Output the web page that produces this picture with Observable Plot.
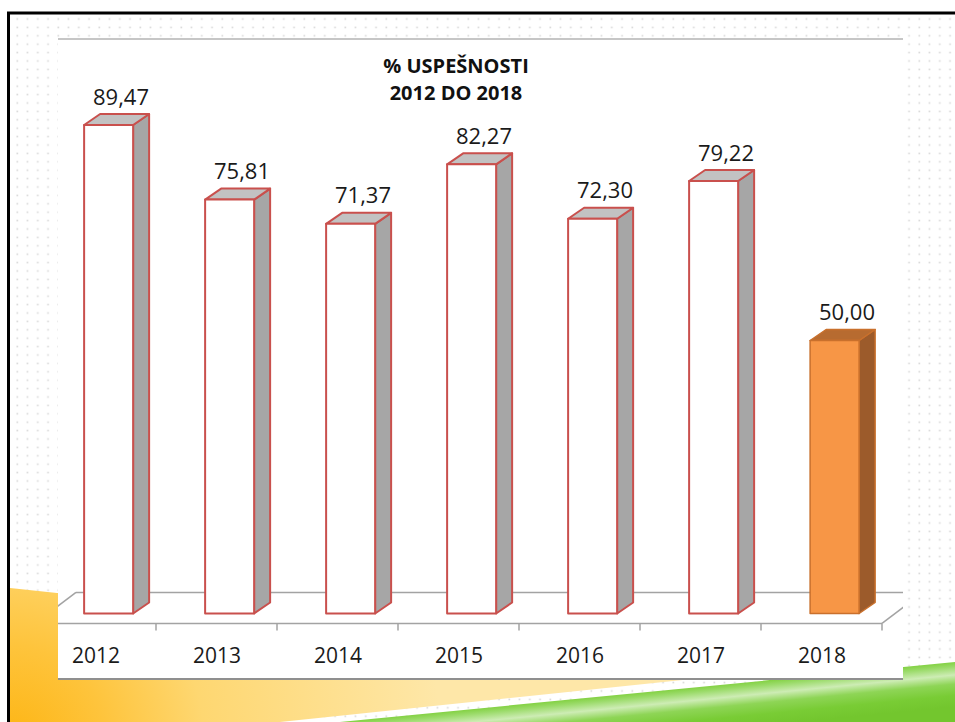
<!DOCTYPE html>
<html>
<head>
<meta charset="utf-8">
<script src="https://cdn.jsdelivr.net/npm/d3@7"></script>
<script src="https://cdn.jsdelivr.net/npm/@observablehq/plot@0.6"></script>
<style>
  html, body { margin: 0; padding: 0; background: #fff; }
  #page { position: relative; width: 955px; height: 722px; overflow: hidden; font-family: "Open Sans", sans-serif; }
  #deco { position: absolute; left: 0; top: 0; }
  #area { position: absolute; left: 58px; top: 38px; width: 845px; height: 638px; background: #fff;
          border-top: 2px solid #c6c6c6; border-bottom: 2px solid #8f8f8f; }
  #chart { position: absolute; left: 58px; top: 40px; width: 845px; height: 638px; overflow: hidden; }
  #title { position: absolute; left: 336px; top: 52px; width: 240px; text-align: center;
           font: bold 20px/27px "Open Sans", sans-serif; color: #111; }
</style>
</head>
<body>
<div id="page">
  <svg id="deco" width="955" height="722">
    <defs>
      <pattern id="dots" x="12.3" y="14.8" width="10.25" height="8.4" patternUnits="userSpaceOnUse">
        <rect x="4.2" y="3.4" width="1.6" height="1.6" fill="#d6d6d6"></rect>
      </pattern>
      <radialGradient id="yel" gradientUnits="userSpaceOnUse" cx="10" cy="740" r="430">
        <stop offset="0" stop-color="#fdb514"></stop>
        <stop offset="0.22" stop-color="#fec43c"></stop>
        <stop offset="0.45" stop-color="#fed771"></stop>
        <stop offset="1" stop-color="#fee7a8"></stop>
      </radialGradient>
      <linearGradient id="grn" gradientUnits="userSpaceOnUse" x1="600" y1="696" x2="604.4" y2="741">
        <stop offset="0" stop-color="#80d03e"></stop>
        <stop offset="0.12" stop-color="#9bdb6a"></stop>
        <stop offset="0.3" stop-color="#cdecb4"></stop>
        <stop offset="0.5" stop-color="#8ed556"></stop>
        <stop offset="0.75" stop-color="#79cc35"></stop>
        <stop offset="1" stop-color="#73c62e"></stop>
      </linearGradient>
    </defs>
    <rect x="10" y="14" width="945" height="708" fill="url(#dots)"></rect>
    <polygon points="10,588 57,593 903,600 903,657 280,722 10,722" fill="url(#yel)"></polygon>
    <polygon points="340,722 955,662 955,722" fill="url(#grn)"></polygon>
    <line x1="7" y1="13" x2="955" y2="13" stroke="#000" stroke-width="3"></line>
    <line x1="8.5" y1="12" x2="8.5" y2="722" stroke="#000" stroke-width="3"></line>
  </svg>
  <div id="area"></div>
  <div id="chart"></div>
  <div id="title">% USPEŠNOSTI<br>2012 DO 2018</div>
</div>
<script>
// ---- data ----
const years = ["2012", "2013", "2014", "2015", "2016", "2017", "2018"];
const values = [89.47, 75.81, 71.37, 82.27, 72.30, 79.22, 50.00];
const highlightYear = "2018";

const data = years.map((year, i) => ({year, value: values[i]}));
const fmt = v => v.toFixed(2).replace(".", ",");

// ---- 3D geometry (pixels) ----
const FLOOR = [41, -31];   // floor depth vector
const D0 = 0.32;           // depth of bar front face (fraction of floor)
const BAR_DEPTH = [16, -11];
const BAR_W = 0.405;       // front face width as fraction of band

function bars3d(index, scales) {
  const x = scales.x, y = scales.y;
  const bw = typeof x.bandwidth === "function" ? x.bandwidth() : (x(years[1]) - x(years[0]));
  const [r0, r1] = typeof x.range === "function" ? x.range() : [x(years[0]), x(years[years.length - 1]) + bw];
  const g = d3.create("svg:g");
  const y0 = y(0);
  const yf = y0 - D0 * FLOOR[1];
  const floorStroke = "#a3a3a3";
  // floor
  const fl = g.append("g").attr("stroke", floorStroke).attr("stroke-width", 1.5).attr("fill", "none");
  fl.append("path").attr("d", `M${r0},${yf}L${r1},${yf}`);
  fl.append("path").attr("d", `M${r0 + FLOOR[0]},${yf + FLOOR[1]}L${r1 + FLOOR[0]},${yf + FLOOR[1]}`);
  fl.append("path").attr("d", `M${r0},${yf}L${r0 + FLOOR[0]},${yf + FLOOR[1]}`);
  fl.append("path").attr("d", `M${r1},${yf}L${r1 + FLOOR[0]},${yf + FLOOR[1]}`);
  for (let k = 0; k <= years.length; k++) {
    const b = r0 + k * bw;
    fl.append("path").attr("d", `M${b},${yf}L${b},${yf + 7}`);
  }
  // bars
  data.forEach(d => {
    const hl = d.year === highlightYear;
    const cx = x(d.year) + bw / 2 + D0 * FLOOR[0];
    const fx0 = cx - BAR_W * bw / 2, fx1 = cx + BAR_W * bw / 2;
    const yt = y(d.value), yb = y0;
    const [ddx, ddy] = BAR_DEPTH;
    const stroke = hl ? "#c9702c" : "#c9504d";
    const bg = g.append("g").attr("stroke", stroke).attr("stroke-width", hl ? 1.5 : 2).attr("stroke-linejoin", "round");
    bg.append("path").attr("fill", hl ? "#9c5b2b" : "#a6a6a6")
      .attr("d", `M${fx1},${yt}L${fx1 + ddx},${yt + ddy}L${fx1 + ddx},${yb + ddy}L${fx1},${yb}Z`);
    bg.append("path").attr("fill", hl ? "#b76b30" : "#c2c2c2")
      .attr("d", `M${fx0},${yt}L${fx0 + ddx},${yt + ddy}L${fx1 + ddx},${yt + ddy}L${fx1},${yt}Z`);
    bg.append("path").attr("fill", hl ? "#f79646" : "#ffffff")
      .attr("d", `M${fx0},${yt}L${fx1},${yt}L${fx1},${yb}L${fx0},${yb}Z`);
  });
  return g.node();
}

const W = 845, H = 638;
const chart = Plot.plot({
  width: W,
  height: H,
  marginTop: 20,
  marginBottom: 54.6,
  marginLeft: 0,
  marginRight: 0,
  style: {fontFamily: "'Open Sans', sans-serif", background: "transparent", overflow: "hidden", color: "#1a1a1a"},
  x: {type: "band", domain: years, range: [-23, 824], padding: 0, label: null},
  y: {domain: [0, 100], range: [573.5, 27.5], axis: null},
  marks: [
    bars3d,
    Plot.axisX({tickSize: 0, tickPadding: 24, fontSize: 21, fill: "#1a1a1a", label: null}),
    Plot.text(data, {
      x: "year", y: "value", text: d => fmt(d.value),
      dx: 25, dy: -28, fontSize: 22, fill: "#1a1a1a"
    })
  ]
});
document.getElementById("chart").appendChild(chart);
</script>
</body>
</html>
